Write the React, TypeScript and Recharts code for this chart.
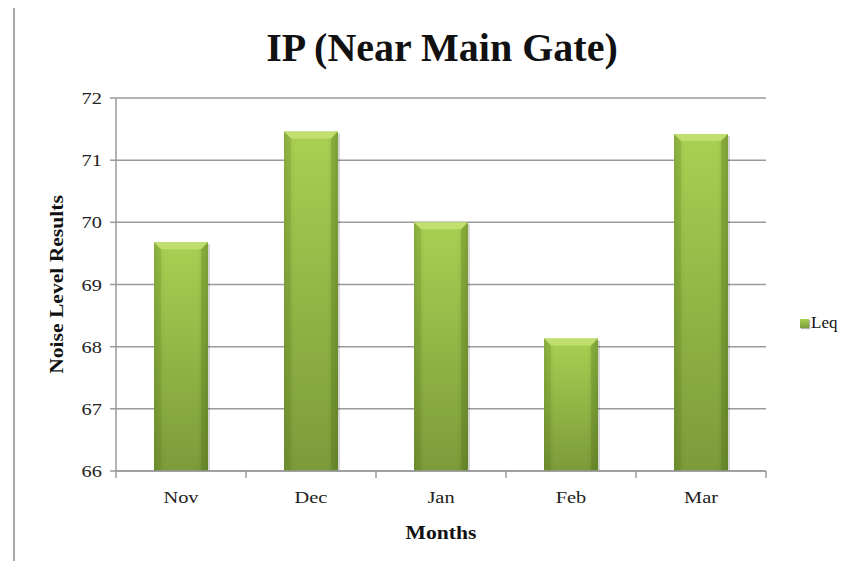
import React from "react";
import { BarChart, Bar, XAxis, YAxis, CartesianGrid, Legend, Label } from "recharts";

const months = ["Nov", "Dec", "Jan", "Feb", "Mar"];
const leqValues = [69.68, 71.46, 70.0, 68.13, 71.42];
const yTicks = [66, 67, 68, 69, 70, 71, 72];

const data = months.map((m, i) => ({ month: m, Leq: leqValues[i] }));

const FONT = '"Liberation Serif", "Times New Roman", serif';
const AXIS = "#9a9a9a";
const SX = 1.2;

const BarShape = (props: any) => {
  const { x, y, width, height } = props;
  if (height <= 0) return null;
  const bev = Math.min(7, height / 2);
  return (
    <g>
      <rect x={x + 2} y={y + 2} width={width} height={height - 2} fill="rgba(0,0,0,0.16)" />
      <rect x={x} y={y} width={width} height={height} fill="url(#barV)" />
      <rect x={x} y={y} width={width} height={height} fill="url(#barH)" />
      <polygon
        points={`${x},${y} ${x + width},${y} ${x + width - bev},${y + bev} ${x + bev},${y + bev}`}
        fill="#c0df6e"
      />
      <polygon points={`${x},${y} ${x + bev},${y + bev} ${x + bev},${y + height} ${x},${y + height}`} fill="rgba(90,120,30,0.18)" />
      <polygon
        points={`${x + width},${y} ${x + width - bev},${y + bev} ${x + width - bev},${y + height} ${x + width},${y + height}`}
        fill="rgba(70,100,20,0.22)"
      />
    </g>
  );
};

const XTick = (props: any) => {
  const { x, y, payload, index, visibleTicksCount } = props;
  const half = payload && payload.offset ? payload.offset : 65;
  return (
    <g>
      <line x1={x - half} y1={y} x2={x - half} y2={y + 7} stroke={AXIS} strokeWidth={1.5} />
      {index === visibleTicksCount - 1 && (
        <line x1={x + half} y1={y} x2={x + half} y2={y + 7} stroke={AXIS} strokeWidth={1.5} />
      )}
      <text
        transform={`translate(${x},${y + 32}) scale(${SX},1)`}
        textAnchor="middle"
        style={{ fontFamily: FONT, fontSize: 17, fill: "#222" }}
      >
        {payload.value}
      </text>
    </g>
  );
};

const YTick = (props: any) => {
  const { x, y, payload } = props;
  return (
    <text
      transform={`translate(${x},${y + 6}) scale(${SX},1)`}
      textAnchor="end"
      style={{ fontFamily: FONT, fontSize: 17, fill: "#222" }}
    >
      {payload.value}
    </text>
  );
};

const LegendContent = () => (
  <div style={{ display: "flex", alignItems: "center", fontFamily: FONT, fontSize: 17, color: "#111" }}>
    <span
      style={{
        display: "inline-block",
        width: 9,
        height: 9,
        background: "linear-gradient(#a8cf52, #7c9d3b)",
        marginRight: 2,
        boxShadow: "1px 1px 1px rgba(0,0,0,0.3)",
      }}
    />
    <span>Leq</span>
  </div>
);

export default function App() {
  return (
    <div style={{ position: "relative", width: 850, height: 553 }}>
      <div style={{ position: "absolute", left: 5, top: -3, width: 845, height: 2, background: "#a8a8a8" }} />
      <div style={{ position: "absolute", left: 5, top: -3, width: 2, height: 556, background: "#a8a8a8" }} />
      <div
        style={{
          position: "absolute",
          left: 0,
          width: 868,
          top: 19,
          textAlign: "center",
          fontFamily: FONT,
          fontWeight: "bold",
          fontSize: 40,
          color: "#111",
          lineHeight: "42px",
        }}
      >
        IP (Near Main Gate)
      </div>
      <BarChart width={850} height={553} data={data} margin={{ top: 90, right: 92, left: 48, bottom: 30 }}>
        <defs>
          <linearGradient id="barV" x1="0" y1="0" x2="0" y2="1">
            <stop offset="0%" stopColor="#a9d052" />
            <stop offset="100%" stopColor="#7b9b3a" />
          </linearGradient>
          <linearGradient id="barH" x1="0" y1="0" x2="1" y2="0">
            <stop offset="0%" stopColor="rgba(60,90,10,0.2)" />
            <stop offset="20%" stopColor="rgba(60,90,10,0)" />
            <stop offset="80%" stopColor="rgba(60,90,10,0)" />
            <stop offset="100%" stopColor="rgba(60,90,10,0.25)" />
          </linearGradient>
        </defs>
        <CartesianGrid vertical={false} stroke={AXIS} strokeWidth={1.5} />
        <XAxis
          dataKey="month"
          tickLine={false}
          tickSize={0}
          tickMargin={0}
          height={60}
          axisLine={{ stroke: AXIS, strokeWidth: 1.5 }}
          tick={<XTick />}
          interval={0}
        >
          <Label
            content={(p: any) => {
              const vb = p.viewBox;
              const cx = vb.x + vb.width / 2;
              return (
                <text
                  transform={`translate(${cx},${vb.y + 68}) scale(${SX},1)`}
                  textAnchor="middle"
                  style={{ fontFamily: FONT, fontWeight: "bold", fontSize: 18, fill: "#111" }}
                >
                  Months
                </text>
              );
            }}
          />
        </XAxis>
        <YAxis
          domain={[66, 72]}
          ticks={yTicks}
          width={60}
          tickSize={6}
          tickMargin={8}
          tick={<YTick />}
          tickLine={{ stroke: AXIS, strokeWidth: 1.5 }}
          axisLine={{ stroke: AXIS, strokeWidth: 1.5 }}
          interval={0}
        >
          <Label
            content={(p: any) => {
              const vb = p.viewBox;
              const cx = 55;
              const cy = vb.y + vb.height / 2;
              return (
                <text
                  transform={`translate(${cx},${cy}) rotate(-90) scale(${SX},1)`}
                  textAnchor="middle"
                  style={{ fontFamily: FONT, fontWeight: "bold", fontSize: 18, fill: "#111" }}
                >
                  Noise Level Results
                </text>
              );
            }}
          />
        </YAxis>
        <Legend
          layout="vertical"
          align="center"
          verticalAlign="middle"
          content={<LegendContent />}
          wrapperStyle={{ left: 792, top: 305, width: 60, height: 20 }}
        />
        <Bar dataKey="Leq" barSize={54} shape={<BarShape />} isAnimationActive={false} />
      </BarChart>
    </div>
  );
}
